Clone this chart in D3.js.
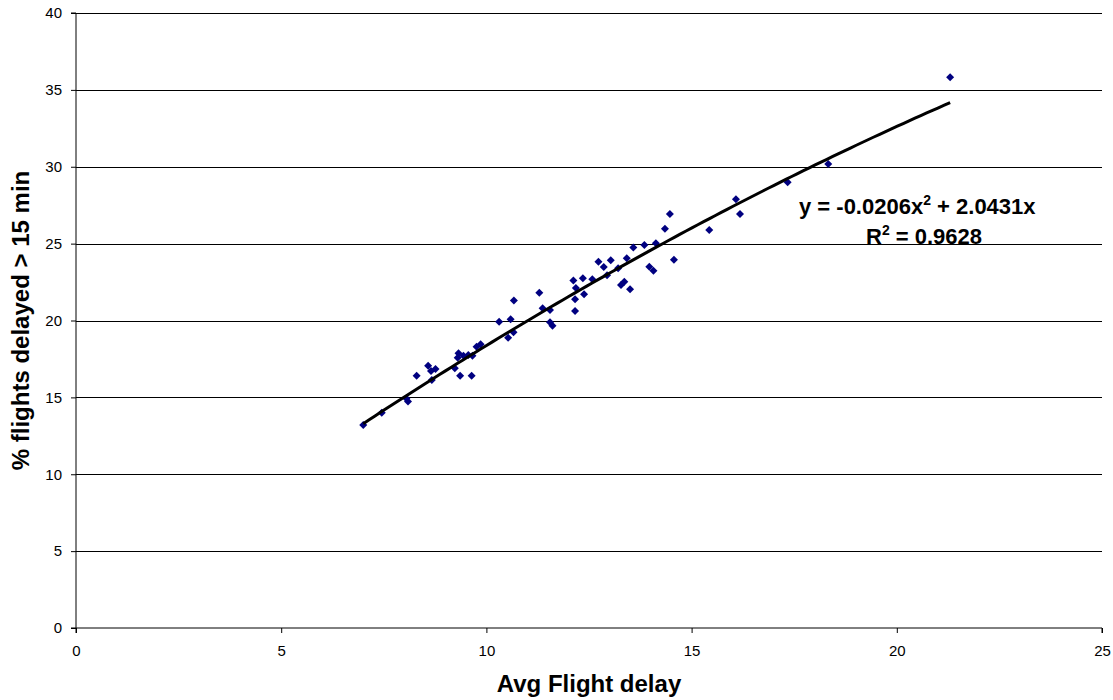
<!DOCTYPE html>
<html>
<head>
<meta charset="utf-8">
<script src="https://cdn.jsdelivr.net/npm/d3@7"></script>
<style>
  html, body { margin: 0; padding: 0; background: #fff; }
  svg { display: block; font-family: "Liberation Sans", Arial, sans-serif; }
</style>
</head>
<body>
<svg id="chart" width="1113" height="700"></svg>
<script>
// ---- Data ----
const avgDelay = [7.00, 7.45, 8.05, 8.09, 8.30, 8.58, 8.65, 8.76, 8.67, 9.23,
  9.36, 9.64, 9.32, 9.30, 9.44, 9.56, 9.66, 9.76, 9.86, 10.31,
  10.53, 10.59, 10.66, 10.67, 11.29, 11.37, 11.55, 11.55, 11.61, 12.12,
  12.18, 12.16, 12.16, 12.38, 12.35, 12.58, 12.73, 12.86, 13.03, 12.94,
  13.21, 13.42, 13.28, 13.36, 13.50, 13.58, 13.85, 14.13, 13.97, 14.07,
  14.35, 14.47, 14.57, 15.43, 16.08, 16.18, 17.34, 18.33, 21.30];
const pctDelayed = [13.20, 14.00, 14.93, 14.73, 16.41, 17.06, 16.72, 16.85, 16.13, 16.89,
  16.41, 16.41, 17.87, 17.58, 17.71, 17.76, 17.71, 18.30, 18.45, 19.92,
  18.88, 20.08, 19.23, 21.30, 21.81, 20.79, 20.68, 19.88, 19.66, 22.60,
  22.11, 21.39, 20.62, 21.70, 22.74, 22.69, 23.82, 23.48, 23.92, 22.94,
  23.40, 24.05, 22.31, 22.52, 22.03, 24.74, 24.91, 25.02, 23.50, 23.24,
  25.97, 26.93, 23.95, 25.89, 27.88, 26.93, 28.99, 30.18, 35.82];
const trendCoef = [-0.0206, 2.0431, 0];   // a x^2 + b x + c
const rSquared = 0.9628;
const xTicks = [0, 5, 10, 15, 20, 25];
const yTicks = [0, 5, 10, 15, 20, 25, 30, 35, 40];
const xTitle = "Avg Flight delay";
const yTitle = "% flights delayed > 15 min";

// ---- Layout ----
const svg = d3.select("#chart");
const mLeft = 76, mRight = 1102, mTop = 13, mBottom = 628;

const x = d3.scaleLinear().domain([0, 25]).range([mLeft, mRight]);
const y = d3.scaleLinear().domain([0, 40]).range([mBottom, mTop]);

// gridlines
svg.append("g")
  .selectAll("line")
  .data(yTicks.filter(d => d > 0))
  .join("line")
  .attr("x1", mLeft).attr("x2", mRight)
  .attr("y1", d => Math.round(y(d)) + 0.5).attr("y2", d => Math.round(y(d)) + 0.5)
  .attr("stroke", "#000").attr("stroke-width", 1);

// axes
const xAxis = svg.append("g")
  .attr("transform", `translate(0,${mBottom})`)
  .call(d3.axisBottom(x).tickValues(xTicks).tickSize(5).tickPadding(12).tickFormat(d3.format("d")));
const yAxis = svg.append("g")
  .attr("transform", `translate(${mLeft},0)`)
  .call(d3.axisLeft(y).tickValues(yTicks).tickSize(5).tickPadding(9).tickFormat(d3.format("d")));

[xAxis, yAxis].forEach(g => {
  g.select(".domain").attr("stroke", "#000").attr("stroke-width", 1);
  g.selectAll(".tick line").attr("stroke", "#000");
  g.selectAll(".tick text").attr("font-size", 15).attr("fill", "#000")
    .attr("font-family", "'Liberation Sans', Arial, sans-serif");
});
yAxis.select(".domain").attr("d", `M-5,${mBottom}H0V${mTop}H-5`);
xAxis.select(".domain").attr("d", `M${mLeft},5V0H${mRight}V5`);

// points
const diamond = d3.symbol().type(d3.symbolSquare).size(32);
svg.append("g")
  .selectAll("path")
  .data(avgDelay.map((v, i) => [v, pctDelayed[i]]))
  .join("path")
  .attr("d", diamond)
  .attr("transform", d => `translate(${x(d[0])},${y(d[1])}) rotate(45)`)
  .attr("fill", "#000080");

// trend line (polynomial order 2)
const xMin = d3.min(avgDelay), xMax = d3.max(avgDelay);
const trendX = d3.range(0, 101).map(i => xMin + (xMax - xMin) * i / 100);
const f = v => trendCoef[0] * v * v + trendCoef[1] * v + trendCoef[2];
svg.append("path")
  .datum(trendX)
  .attr("d", d3.line().x(d => x(d)).y(d => y(f(d))))
  .attr("fill", "none")
  .attr("stroke", "#000")
  .attr("stroke-width", 3);

// equation labels
const eq = svg.append("text")
  .attr("x", 799).attr("y", 214)
  .attr("font-size", 22).attr("font-weight", "bold").attr("fill", "#000");
eq.append("tspan").text(`y = ${trendCoef[0]}x`);
eq.append("tspan").attr("dy", -9).attr("font-size", 14).text("2");
eq.append("tspan").attr("dy", 9).text(` + ${trendCoef[1]}x`);

const r2 = svg.append("text")
  .attr("x", 866).attr("y", 244)
  .attr("font-size", 22).attr("font-weight", "bold").attr("fill", "#000");
r2.append("tspan").text("R");
r2.append("tspan").attr("dy", -9).attr("font-size", 14).text("2");
r2.append("tspan").attr("dy", 9).text(` = ${rSquared}`);

// axis titles
svg.append("text")
  .attr("x", 589).attr("y", 692)
  .attr("text-anchor", "middle")
  .attr("font-size", 24).attr("font-weight", "bold").attr("fill", "#000")
  .text(xTitle);

svg.append("text")
  .attr("transform", `translate(29,${(mTop + mBottom) / 2}) rotate(-90)`)
  .attr("text-anchor", "middle")
  .attr("font-size", 24).attr("font-weight", "bold").attr("fill", "#000")
  .text(yTitle);
</script>
</body>
</html>
